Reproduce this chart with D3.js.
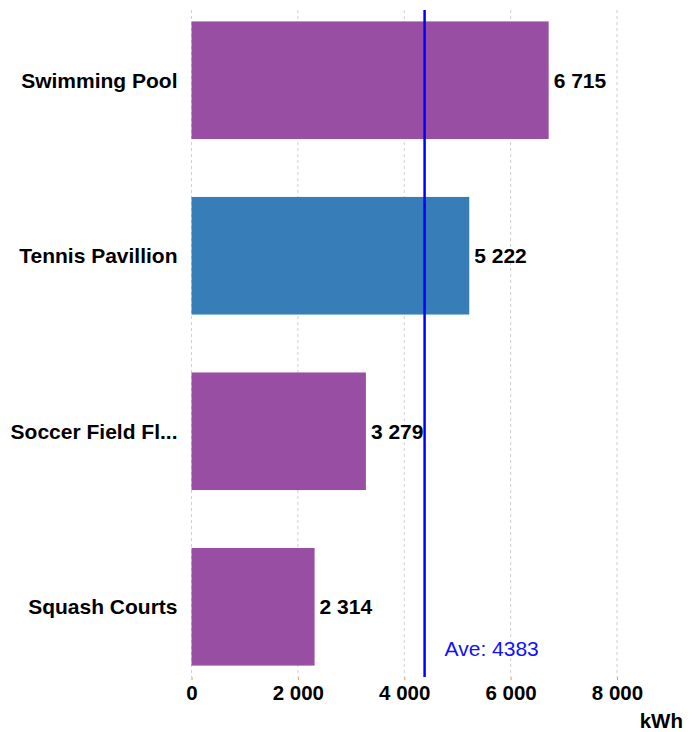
<!DOCTYPE html>
<html>
<head>
<meta charset="utf-8">
<script src="https://cdn.jsdelivr.net/npm/d3@7"></script>
<style>
  body { margin: 0; background: #fff; }
  text { font-family: "Liberation Sans", Arial, sans-serif; }
</style>
</head>
<body>
<script>
// chart data
var categories = ["Swimming Pool", "Tennis Pavillion", "Soccer Field Fl...", "Squash Courts"];
var values = [6715, 5222, 3279, 2314];
var barColors = ["#984ea3", "#377eb8", "#984ea3", "#984ea3"];
var tickValues = [0, 2000, 4000, 6000, 8000];
var unit = "kWh";

var width = 699, height = 732;
var plotLeft = 191.5, plotTop = 10, plotBottom = 677;

var svg = d3.select("body").append("svg")
    .attr("width", width)
    .attr("height", height);

// space as thousands separator
var fmt = d3.formatLocale({ decimal: ".", thousands: " ", grouping: [3], currency: ["", ""] }).format(",d");

var x = d3.scaleLinear().domain([0, 8000]).range([plotLeft, 617]);
var y = d3.scaleBand().domain(categories).range([plotTop, plotBottom])
    .paddingInner(0.33).paddingOuter(0.065);

var rows = categories.map(function (c, i) { return { name: c, value: values[i], color: barColors[i] }; });

// grid lines
svg.append("g").selectAll("line").data(tickValues).enter().append("line")
    .attr("x1", function (d) { return x(d); })
    .attr("x2", function (d) { return x(d); })
    .attr("y1", plotTop).attr("y2", plotBottom)
    .attr("stroke", "#cfcfcf")
    .attr("stroke-width", 1)
    .attr("stroke-dasharray", "3,3");

// x axis
var xAxis = svg.append("g")
    .attr("transform", "translate(0," + plotBottom + ")")
    .call(d3.axisBottom(x).tickValues(tickValues).tickFormat(fmt).tickSize(3).tickPadding(5));
xAxis.select(".domain").remove();
xAxis.selectAll(".tick line").attr("stroke", "#f39c3c");
xAxis.selectAll("text")
    .attr("fill", "#000")
    .style("font-size", "20.5px")
    .style("font-weight", "bold")
    .style("font-family", "Liberation Sans, Arial, sans-serif");

// bars
svg.append("g").selectAll("rect").data(rows).enter().append("rect")
    .attr("x", x(0))
    .attr("y", function (d) { return y(d.name); })
    .attr("width", function (d) { return x(d.value) - x(0); })
    .attr("height", y.bandwidth())
    .attr("fill", function (d) { return d.color; });

// category labels
svg.append("g").selectAll("text").data(rows).enter().append("text")
    .attr("x", plotLeft - 14)
    .attr("y", function (d) { return y(d.name) + y.bandwidth() / 2; })
    .attr("dy", "0.35em")
    .attr("text-anchor", "end")
    .style("font-size", "21px")
    .style("font-weight", "bold")
    .text(function (d) { return d.name; });

// value labels
svg.append("g").selectAll("text").data(rows).enter().append("text")
    .attr("x", function (d) { return x(d.value) + 5; })
    .attr("y", function (d) { return y(d.name) + y.bandwidth() / 2; })
    .attr("dy", "0.35em")
    .style("font-size", "21px")
    .style("font-weight", "bold")
    .text(function (d) { return fmt(d.value); });

// average line
var ave = d3.mean(values);
svg.append("line")
    .attr("x1", x(ave)).attr("x2", x(ave))
    .attr("y1", plotTop).attr("y2", plotBottom)
    .attr("stroke", "#0000ff")
    .attr("stroke-width", 2.5);
svg.append("text")
    .attr("x", x(ave) + 20)
    .attr("y", 656)
    .attr("fill", "#1010ff")
    .style("font-size", "21px")
    .text("Ave: " + Math.round(ave));

// unit label
svg.append("text")
    .attr("x", 683)
    .attr("y", 728)
    .attr("text-anchor", "end")
    .style("font-size", "20.5px")
    .style("font-weight", "bold")
    .text(unit);
</script>
</body>
</html>
